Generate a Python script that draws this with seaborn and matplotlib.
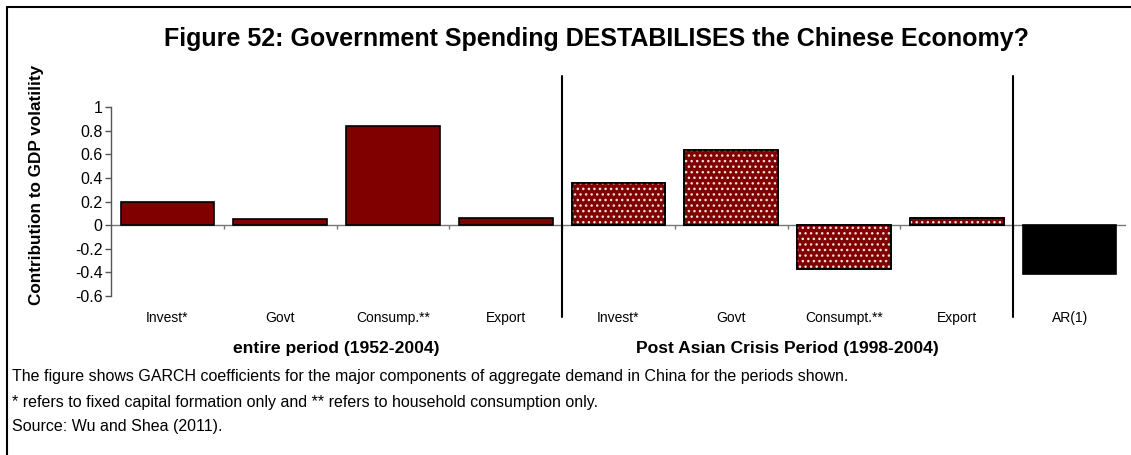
import matplotlib
matplotlib.use("Agg")
import matplotlib.pyplot as plt
import matplotlib.transforms as mtransforms
from matplotlib.lines import Line2D
from matplotlib.patches import Rectangle
import seaborn as sns
import pandas as pd

# data
labels = ["Invest*", "Govt", "Consump.**", "Export",
          "Invest*", "Govt", "Consumpt.**", "Export", "AR(1)"]
period = ["entire", "entire", "entire", "entire",
          "post", "post", "post", "post", "ar"]
values = [0.20, 0.05, 0.84, 0.06, 0.36, 0.64, -0.37, 0.06, -0.41]
group_names = ["entire period (1952-2004)", "Post Asian Crisis Period (1998-2004)"]
yticks = [-0.6, -0.4, -0.2, 0, 0.2, 0.4, 0.6, 0.8, 1]
ytick_labels = ["-0.6", "-0.4", "-0.2", "0", "0.2", "0.4", "0.6", "0.8", "1"]
title = "Figure 52: Government Spending DESTABILISES the Chinese Economy?"
notes = ["The figure shows GARCH coefficients for the major components of aggregate demand in China for the periods shown.",
         "* refers to fixed capital formation only and ** refers to household consumption only.",
         "Source: Wu and Shea (2011)."]

sns.set_style("white")
plt.rcParams['font.family'] = ['Liberation Sans', 'DejaVu Sans']
plt.rcParams['text.color'] = 'black'
plt.rcParams['axes.labelcolor'] = 'black'
plt.rcParams['xtick.color'] = 'black'
plt.rcParams['ytick.color'] = 'black'

W, H = 1131, 455
fig = plt.figure(figsize=(W / 100, H / 100), dpi=100)
ax = fig.add_axes([111 / W, 1 - 296 / H, 1015 / W, 189 / H])

df = pd.DataFrame({"slot": [str(i) for i in range(len(values))],
                   "value": values, "period": period})
pal = {"entire": "#800000", "post": "#800000", "ar": "black"}
sns.barplot(data=df, x="slot", y="value", hue="period", palette=pal,
            dodge=False, width=0.83, edgecolor="black", linewidth=1.2,
            saturation=1, legend=False, ax=ax, zorder=3)

# dotted fill for the post-crisis bars
for p in list(ax.patches):
    i = int(round(p.get_x() + p.get_width() / 2))
    if period[i] == "post":
        ax.add_patch(Rectangle((p.get_x(), p.get_y()), p.get_width(), p.get_height(),
                               facecolor="none", edgecolor="#f0e0e0", hatch="...",
                               linewidth=0, zorder=4))
        ax.add_patch(Rectangle((p.get_x(), p.get_y()), p.get_width(), p.get_height(),
                               facecolor="none", edgecolor="black",
                               linewidth=1.2, zorder=5))

ax.set_ylim(-0.6, 1)
ax.set_xlim(-0.5, len(values) - 0.5)
ax.set_yticks(yticks)
ax.set_yticklabels(ytick_labels, fontsize=11.5)
ax.set_xticks(range(len(values)))
ax.set_xticklabels(labels, fontsize=10)
ax.tick_params(axis="x", length=0, pad=11)
ax.tick_params(axis="y", left=True, length=4, width=1, color="#555555", pad=2)
for s in ["top", "right", "bottom"]:
    ax.spines[s].set_visible(False)
ax.spines["left"].set_color("#555555")
ax.spines["left"].set_linewidth(1)
ax.set_xlabel("")
ax.set_ylabel("Contribution to GDP volatility", fontsize=12.3, fontweight="bold")
ax.yaxis.set_label_coords(-0.066, 0.59)

# zero axis with category boundary ticks
ax.axhline(0, color="#777777", lw=1, zorder=2)
bounds = [i + 0.5 for i in range(len(values) - 1)]
ax.vlines(bounds, -0.035, 0, color="#777777", lw=1, zorder=2)

# period separators
trans = mtransforms.blended_transform_factory(ax.transData, ax.transAxes)
for b in [3.5, 7.5]:
    ax.plot([b, b], [1.164, -0.111], transform=trans, color="black",
            lw=1.5, clip_on=False, zorder=6)

gtrans = mtransforms.blended_transform_factory(ax.transData, fig.transFigure)
ax.text(1.5, 1 - 349 / H, group_names[0], transform=gtrans, ha="center",
        va="center", fontsize=12.6, fontweight="bold")
ax.text(5.5, 1 - 349 / H, group_names[1], transform=gtrans, ha="center",
        va="center", fontsize=12.6, fontweight="bold")

fig.text(597 / W, 1 - 39 / H, title, ha="center", va="center",
         fontsize=18, fontweight="bold")
for k, line in enumerate(notes):
    fig.text(12 / W, 1 - (377 + 25 * k) / H, line, ha="left", va="center",
             fontsize=11.5)

# frame (top and left edges)
fig.add_artist(Line2D([7 / W, 1], [1 - 7 / H, 1 - 7 / H], transform=fig.transFigure,
                      color="black", lw=1.5))
fig.add_artist(Line2D([7 / W, 7 / W], [0, 1 - 7 / H], transform=fig.transFigure,
                      color="black", lw=1.5))

fig.savefig("out.png", dpi=100)
